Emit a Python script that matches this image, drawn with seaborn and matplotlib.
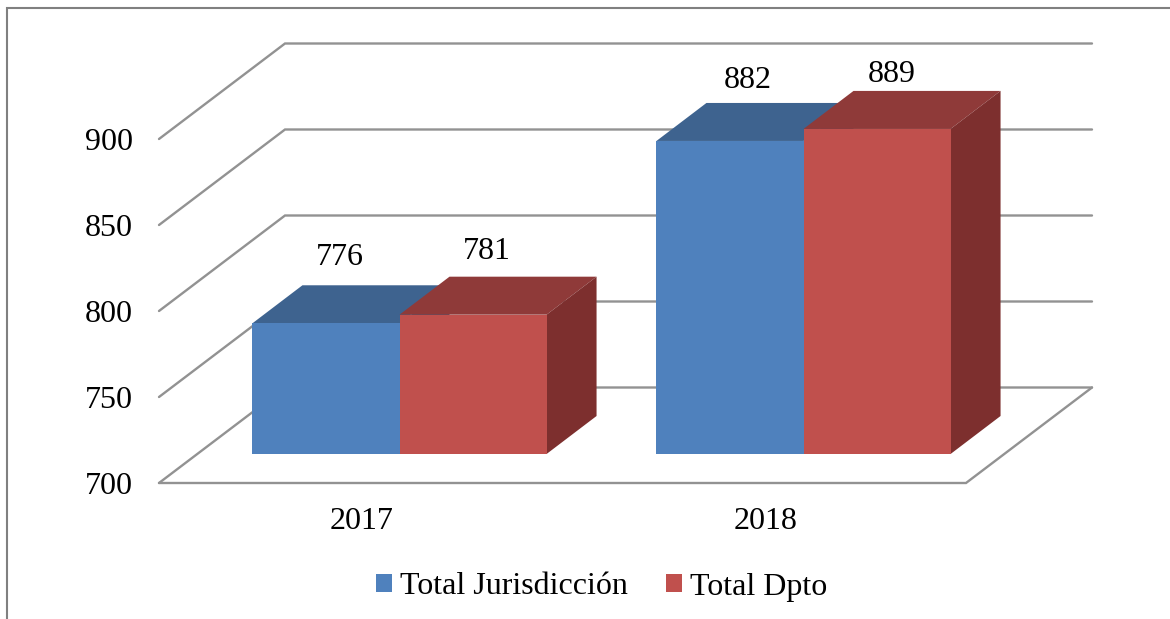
import matplotlib
matplotlib.use("Agg")
import matplotlib.pyplot as plt
from matplotlib.lines import Line2D
from matplotlib.patches import Polygon
from matplotlib.transforms import ScaledTranslation
import pandas as pd
import seaborn as sns

# Data
years = ["2017", "2018"]
total_jurisdiccion = [776, 882]
total_dpto = [781, 889]
series_names = ["Total Jurisdicción", "Total Dpto"]
wall_ticks = [700, 750, 800, 850, 900]

# Colours: front, top, side of each box
front_colors = ["#4F81BD", "#C0504D"]
top_colors = ["#3E638F", "#8F3A39"]
side_colors = ["#3A5D87", "#7D2F2E"]
line_color = "#929292"

W, H = 1170, 619
sns.set_theme(style="white")
plt.rcParams["font.family"] = ["Liberation Serif", "DejaVu Serif"]
plt.rcParams["text.color"] = "black"
plt.rcParams["xtick.color"] = "black"
plt.rcParams["ytick.color"] = "black"
font_size = 23

fig = plt.figure(figsize=(W / 100, H / 100), dpi=100)

# Both axes share one pixel box, the plot floor is faked by shearing
left, right, top, bottom = 159, 1092, 43.5, 483
box = [left / W, 1 - bottom / H, (right - left) / W, (bottom - top) / H]
px_per_unit = 1.72
base = 700

# Back axes: walls and floor, 700 sits on the front edge of the floor
wall = fig.add_axes(box)
wall.set_xlim(0, right - left)
wall.set_ylim(base, base + (bottom - top) / px_per_unit)
wall.spines[:].set_visible(False)
wall.set_xticks([])
wall.set_yticks(wall_ticks)
wall.tick_params(axis="y", length=0, pad=19, labelsize=font_size)
wall_dx, wall_dy = 126, 95.5 / px_per_unit
floor_width = right - left - wall_dx
for v in wall_ticks:
    wall.plot([0, wall_dx, right - left], [v, v + wall_dy, v + wall_dy],
              color=line_color, lw=1.7, clip_on=False, solid_joinstyle="miter")
wall.plot([0, floor_width, right - left], [base, base, base + wall_dy],
          color=line_color, lw=1.7, clip_on=False, solid_joinstyle="miter")

# Front axes: the bars
ax = fig.add_axes(box, zorder=2)
ax.patch.set_visible(False)
df = pd.DataFrame({
    "year": years * 2,
    "value": total_jurisdiccion + total_dpto,
    "series": [series_names[0]] * 2 + [series_names[1]] * 2,
})
sns.barplot(data=df, x="year", y="value", hue="series", palette=front_colors,
            saturation=1, width=0.728, gap=0, linewidth=0, ax=ax)
handles, labels = ax.get_legend_handles_labels()
ax.get_legend().remove()

px_per_cat = 404
x0 = 399.5
ax.set_xlim((left - x0) / px_per_cat, (right - x0) / px_per_cat)
y_low = base - 29 / px_per_unit
ax.set_ylim(y_low, y_low + (bottom - top) / px_per_unit)
ax.spines[:].set_visible(False)
ax.set_xlabel("")
ax.set_ylabel("")
ax.set_yticks([])
ax.tick_params(axis="x", length=0, pad=17, labelsize=font_size)

# Year labels sit under the floor edge, not under the bars
shift = ScaledTranslation(-38 / 100, 0, fig.dpi_scale_trans)
for lab in ax.get_xticklabels():
    lab.set_transform(lab.get_transform() + shift)

# Box depth for each bar
dx, dy = 50 / px_per_cat, 38 / px_per_unit
label_side = [[13.5, 18], [13.5, 15]]
label_lift = [[66, 60], [63, 54]]
for i, container in enumerate(ax.containers):
    for j, bar in enumerate(container):
        val = int(round(bar.get_height()))
        bar.set_y(base)
        bar.set_height(val - base)
        bar.set_zorder(3 + 2 * i)
        x1 = bar.get_x()
        x2 = x1 + bar.get_width()
        ax.add_patch(Polygon([(x1, val), (x2, val), (x2 + dx, val + dy), (x1 + dx, val + dy)],
                             facecolor=top_colors[i], edgecolor="none", zorder=2 + 2 * i))
        ax.add_patch(Polygon([(x2, base), (x2, val), (x2 + dx, val + dy), (x2 + dx, base + dy)],
                             facecolor=side_colors[i], edgecolor="none", zorder=2 + 2 * i))
        ax.annotate(str(val), xy=((x1 + x2) / 2, val),
                    xytext=(label_side[i][j] * 0.72, label_lift[i][j] * 0.72), textcoords="offset points",
                    ha="center", va="center", fontsize=font_size, zorder=10)

# Legend
fig.legend(handles, labels, loc="center", bbox_to_anchor=(602 / W, 1 - 587 / H), ncol=2,
           frameon=False, fontsize=font_size, handlelength=0.5, handleheight=0.5,
           handletextpad=0.25, columnspacing=1.2, borderpad=0)

# Outer frame, only top and left show in the picture
fig.add_artist(Line2D([6.5 / W, 6.5 / W, 1], [0, 1 - 7.5 / H, 1 - 7.5 / H],
                      color="#808080", lw=1.5, solid_joinstyle="miter"))

fig.savefig("out.png", dpi=100)
